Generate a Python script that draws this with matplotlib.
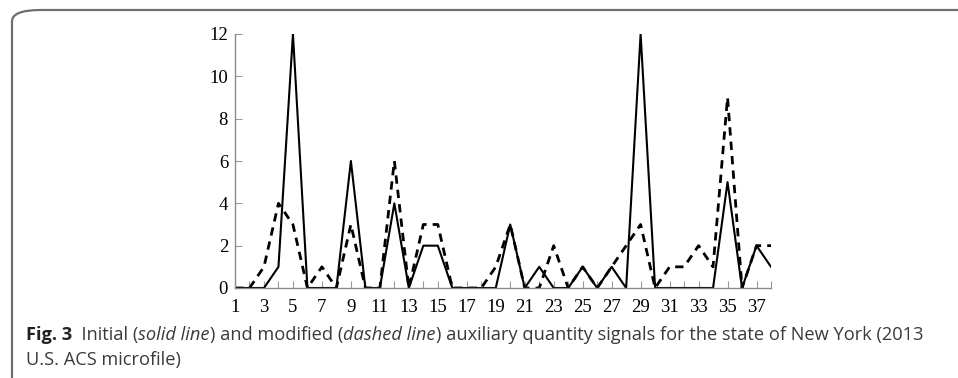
import matplotlib
matplotlib.use("Agg")
import matplotlib.pyplot as plt
from matplotlib.patches import FancyBboxPatch

# signal index 1..38
index = list(range(1, 39))
initial = [0, 0, 0, 1, 12, 0, 0, 0, 6, 0, 0, 4, 0, 2, 2, 0, 0, 0, 0, 3,
           0, 1, 0, 0, 1, 0, 1, 0, 12, 0, 0, 0, 0, 0, 5, 0, 2, 1]
modified = [0, 0, 1, 4, 3, 0, 1, 0, 3, 0, 0, 6, 0, 3, 3, 0, 0, 0, 1, 3,
            0, 0, 2, 0, 1, 0, 1, 2, 3, 0, 1, 1, 2, 1, 9, 0, 2, 2]
x_labels = list(range(1, 38, 2))
y_labels = list(range(0, 13, 2))

caption_1 = [("Fig. 3", "normal", "bold"), ("  Initial (", "normal", "normal"),
             ("solid line", "italic", "normal"), (") and modified (", "normal", "normal"),
             ("dashed line", "italic", "normal"),
             (") auxiliary quantity signals for the state of New York (2013", "normal", "normal")]
caption_2 = "U.S. ACS microfile)"

W, H = 958, 378
fig = plt.figure(figsize=(W / 100, H / 100), dpi=100)

# rounded frame around the figure block
frame = FancyBboxPatch((12 / W, -0.2), 1.2, (H - 10) / H + 0.2,
                       boxstyle="round,pad=0,rounding_size=0.03",
                       transform=fig.transFigure, fill=False,
                       edgecolor="#6e6e6e", linewidth=1.6, clip_on=False)
fig.patches.append(frame)

ax = fig.add_axes([235 / W, 90 / H, (771 - 235) / W, (288 - 34) / H])
ax.plot(index, modified, color="black", linewidth=2.0, linestyle=(0, (3.0, 2.2)))
ax.plot(index, initial, color="black", linewidth=1.5)

ax.set_xlim(1, 38)
ax.set_ylim(0, 12)
ax.set_xticks(index, minor=True)
ax.set_xticks(x_labels)
ax.set_yticks(y_labels)
ax.spines[["top", "right"]].set_visible(False)
for s in ["left", "bottom"]:
    ax.spines[s].set_color("#8a8a8a")
    ax.spines[s].set_linewidth(1.0)
ax.tick_params(axis="both", which="both", direction="in", color="#9a9a9a",
               length=5, width=0.8, labelsize=13.5)
ax.tick_params(axis="x", which="both", pad=8)
ax.tick_params(axis="y", pad=5)
for lab in ax.get_xticklabels() + ax.get_yticklabels():
    lab.set_fontfamily("Liberation Serif")

# caption with mixed styles, fitted to the reference width
fig.canvas.draw()
renderer = fig.canvas.get_renderer()
target = 923 - 26
base = 12.0

def place(size):
    x = 26 / W
    texts = []
    for s, style, weight in caption_1:
        t = fig.text(x, 1 - 340 / H, s, fontsize=size, fontfamily="Open Sans",
                     fontstyle=style, fontweight=weight,
                     color="#222222" if weight == "bold" else "#3a3a3a")
        texts.append(t)
        bb = t.get_window_extent(renderer)
        x += bb.width / W
    return texts, x * W - 26

texts, width = place(base)
for t in texts:
    t.remove()
size = base * target / width
texts, width = place(size)
fig.text(26 / W, 1 - 365 / H, caption_2, fontsize=size, fontfamily="Open Sans",
         color="#3a3a3a")

fig.savefig("out.png", dpi=100)
